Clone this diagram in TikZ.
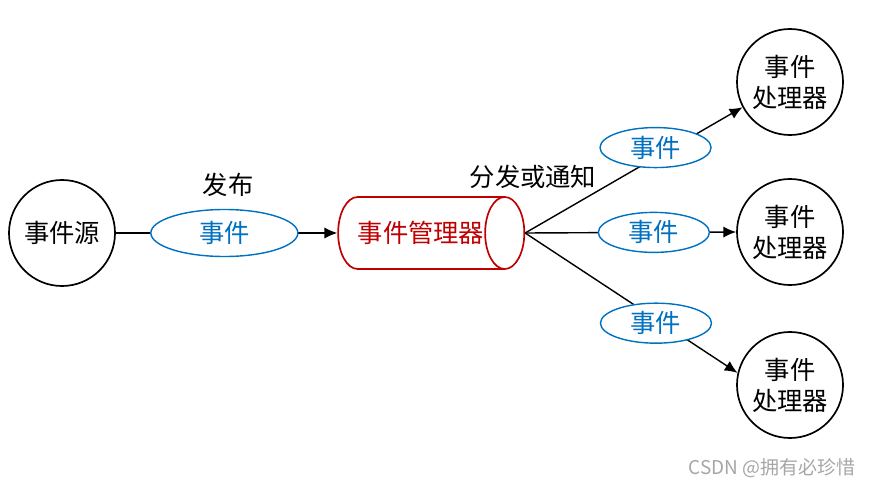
\documentclass[tikz,border=0pt]{standalone}
\usepackage{fontspec}
\setmainfont{Noto Sans CJK SC}
\usepackage{xcolor}
\usetikzlibrary{shapes.geometric,arrows.meta}
\definecolor{evblue}{RGB}{0,112,192}
\definecolor{mgrred}{RGB}{192,0,0}

\begin{document}
\begin{tikzpicture}[x=0.025cm,y=-0.025cm,
  font=\fontsize{18}{22}\selectfont,
  circ/.style={circle,draw,line width=1.2pt,minimum size=2.65cm,inner sep=0pt,align=center},
  evt/.style={ellipse,draw=evblue,text=evblue,fill=white,line width=1pt,inner sep=0pt},
  arr/.style={line width=1pt,-{Latex[length=3.2mm,width=2.8mm]}}]
  \useasboundingbox (0,0) rectangle (873,492);
  % source and manager
  \node[circ] (src) at (62,233) {事件源};
  \node[cylinder,draw=mgrred,text=mgrred,fill=white,line width=1.2pt,minimum height=4.4cm,
    minimum width=1.8cm,aspect=1.67,inner sep=0pt] (mgr) at (421,233) {事件管理器};
  \node (pub) at (228,185) {发布};
  \node (disp) at (533,177) {分发或通知};
  % handlers
  \node[circ] (h1) at (790,82) {事件\\处理器};
  \node[circ] (h2) at (790,232) {事件\\处理器};
  \node[circ] (h3) at (790,385) {事件\\处理器};
  % connectors
  \draw[arr] (src) -- (mgr) node[evt,pos=0.49,minimum width=3.675cm,minimum height=1.175cm] (e0) {事件};
  \draw[arr] (mgr.east) -- (h1.208) node[evt,pos=0.6,yshift=0.25cm,minimum width=2.775cm,minimum height=1cm] (e1) {事件};
  \draw[arr] (mgr.east) -- (h2.west) node[evt,pos=0.61,minimum width=2.775cm,minimum height=1cm] (e2) {事件};
  \draw[arr] (mgr.east) -- (h3.167) node[evt,pos=0.616,yshift=-0.1cm,minimum width=2.775cm,minimum height=1cm] (e3) {事件};
  % watermark
  \node[text=gray!70,font=\fontsize{13.5}{15}\selectfont] (mark) at (772,468) {CSDN @拥有必珍惜};
\end{tikzpicture}
\end{document}
